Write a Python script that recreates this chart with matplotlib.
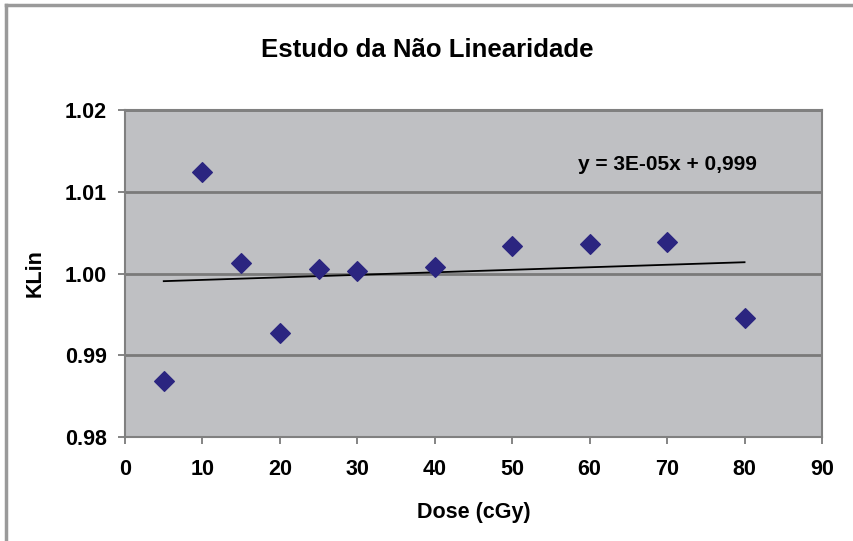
import numpy as np
import matplotlib.pyplot as plt
from matplotlib.lines import Line2D

dose = [5, 10, 15, 20, 25, 30, 40, 50, 60, 70, 80]
klin = [0.9869, 1.0124, 1.0013, 0.9927, 1.0006, 1.0003, 1.0008, 1.0034, 1.0036, 1.0039, 0.9946]
yticks = [0.98, 0.99, 1.00, 1.01, 1.02]
xticks = [0, 10, 20, 30, 40, 50, 60, 70, 80, 90]

plt.rcParams['font.family'] = ['Liberation Sans', 'DejaVu Sans']
plt.rcParams['font.weight'] = 'bold'

fig = plt.figure(figsize=(8.54, 5.41), dpi=100)
ax = fig.add_axes([0.1464, 0.1922, 0.8161, 0.6045])
ax.set_facecolor('#bfc0c3')

ax.scatter(dose, klin, marker='D', s=100, color='#2b2580', zorder=3)

slope, intercept = np.polyfit(dose, klin, 1)
xs = np.array([min(dose), max(dose)])
ax.plot(xs, slope * xs + intercept, color='black', lw=1.3, zorder=2)

ax.text(70.1, 1.0133, 'y = 3E-05x + 0,999', ha='center', va='center', fontsize=15, fontweight='bold')

ax.set_xlim(0, 90)
ax.set_ylim(0.98, 1.02)
ax.set_xticks(xticks)
ax.set_yticks(yticks)
ax.set_yticklabels(['%.2f' % v for v in yticks])
ax.tick_params(labelsize=15.5, direction='out', length=5, color='#707070', width=1.2)
ax.tick_params(axis='x', pad=11)
ax.tick_params(axis='y', pad=8)
ax.grid(axis='y', color='#7a7a7a', lw=2)
ax.set_axisbelow(True)
for s in ax.spines.values():
    s.set_color('#808080')
    s.set_linewidth(1.5)

ax.set_xlabel('Dose (cGy)', fontsize=15.5, fontweight='bold', labelpad=16)
ax.set_ylabel('KLin', fontsize=15.5, fontweight='bold', labelpad=14)
fig.suptitle('Estudo da Não Linearidade', x=0.5, y=0.908, va='center', fontsize=18.5, fontweight='bold')

fig.add_artist(Line2D([0.007, 0.007], [0, 0.99], transform=fig.transFigure, color='#9a9a9a', lw=2.5))
fig.add_artist(Line2D([0.007, 1.0], [0.99, 0.99], transform=fig.transFigure, color='#9a9a9a', lw=2.5))

fig.savefig('out.png', dpi=100)
